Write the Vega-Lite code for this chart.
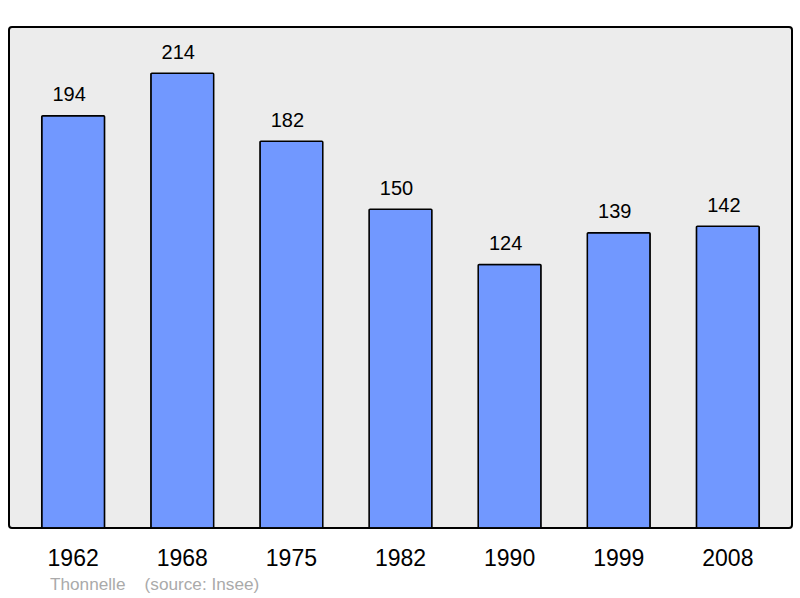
{
  "$schema": "https://vega.github.io/schema/vega-lite/v6.json",
  "autosize": "none",
  "width": 783,
  "height": 501,
  "padding": {"left": 9, "top": 27, "right": 8, "bottom": 70},
  "background": "white",
  "config": {
    "font": "Liberation Sans",
    "view": {"fill": "#ececec", "stroke": "black", "strokeWidth": 2, "cornerRadius": 3}
  },
  "title": {
    "text": "Thonnelle\u00a0\u00a0\u00a0\u00a0(source: Insee)",
    "orient": "bottom",
    "anchor": "start",
    "frame": "group",
    "dx": 41,
    "offset": 6,
    "fontSize": 17.2,
    "fontWeight": "normal",
    "color": "#aaaaaa",
    "font": "Liberation Sans"
  },
  "data": {
    "values": [
      {"year": "1962", "pop": 194},
      {"year": "1968", "pop": 214},
      {"year": "1975", "pop": 182},
      {"year": "1982", "pop": 150},
      {"year": "1990", "pop": 124},
      {"year": "1999", "pop": 139},
      {"year": "2008", "pop": 142}
    ]
  },
  "encoding": {
    "x": {
      "field": "year",
      "type": "ordinal",
      "scale": {"paddingInner": 0.424, "paddingOuter": 0.3},
      "axis": {
        "title": null,
        "domain": false,
        "ticks": false,
        "labelAngle": 0,
        "labelFontSize": 23,
        "labelColor": "black",
        "labelPadding": 19
      }
    },
    "y": {
      "field": "pop",
      "type": "quantitative",
      "scale": {"domain": [0, 235.8], "nice": false},
      "axis": null
    }
  },
  "layer": [
    {
      "mark": {"type": "bar", "fill": "#7198ff", "stroke": "black", "strokeWidth": 1.5, "cornerRadius": 1}
    },
    {
      "mark": {"type": "text", "baseline": "alphabetic", "dx": -4, "dy": -14.5, "fontSize": 20, "color": "black"},
      "encoding": {"text": {"field": "pop", "type": "quantitative"}}
    }
  ]
}
